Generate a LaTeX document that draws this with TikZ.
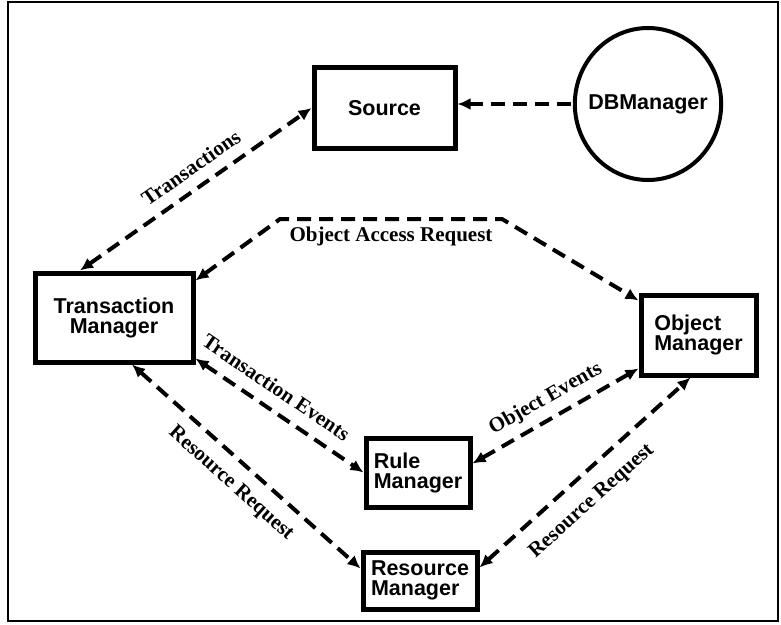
\documentclass[tikz,border=0pt]{standalone}
\usepackage{fontspec}
\setmainfont{Liberation Serif}
\setsansfont{Liberation Sans}
\usetikzlibrary{arrows.meta,shapes.geometric}

\begin{document}
\begin{tikzpicture}[x=1pt,y=-1pt,
    mgr/.style={draw, line width=5pt, inner sep=0pt,
        font=\sffamily\bfseries\fontsize{21.5}{20}\selectfont},
    link/.style={line width=4pt, dash pattern=on 14pt off 8pt,
        >={Latex[length=13pt,width=12pt]}, <->},
    lbl/.style={font=\bfseries\fontsize{21}{20}\selectfont, inner sep=2pt}]

    % Frame round the picture
    \useasboundingbox (0,0) rectangle (781,624);
    \draw[line width=1.2pt] (8,2) rectangle (778,621);

    % The managers
    \node[mgr, minimum width=141pt, minimum height=81pt] (src) at (384.5,108) {Source};
    \node[mgr, ellipse, line width=4pt, inner xsep=-8pt,
        minimum width=142pt, minimum height=152pt] (db) at (648,104) {DBManager};
    \node[mgr, align=center, minimum width=158pt, minimum height=89pt] (tm) at (114,317.5) {Transaction\\Manager};
    \node[mgr, align=left, minimum width=115pt, minimum height=80pt] (om) at (698.5,335) {Object\\Manager};
    \node[mgr, align=left, minimum width=104pt, minimum height=69pt] (rm) at (418,472.5) {Rule\\Manager};
    \node[mgr, align=left, minimum width=114pt, minimum height=57pt] (resm) at (420,580.5) {Resource\\Manager};

    % Bends of the access request path
    \coordinate (oarL) at (280,219);
    \coordinate (oarR) at (502,219);

    % Links between the managers
    \draw[link] ([xshift=-34pt]tm.north) -- node[lbl, sloped, above=9pt, pos=0.53] {Transactions} (src.west);
    \draw[link, <-] (src.east |- db.west) -- (db.west);
    \draw[link] ([yshift=-10pt]tm.north east) -- (oarL)
        -- node[lbl, below=4pt] {Object Access Request} (oarR)
        -- ([yshift=-8pt]om.north west);
    \draw[link] ([yshift=6pt]tm.south east) -- node[lbl, sloped, above=10pt, pos=0.41] {Transaction Events} (rm.west);
    \draw[link] ([xshift=18pt]tm.south) -- node[lbl, sloped, below=10pt, pos=0.5] {Resource Request} ([yshift=12pt]resm.west);
    \draw[link] ([yshift=9pt]rm.east) -- node[lbl, sloped, above=6pt, pos=0.5] {Object Events} ([yshift=9pt]om.south west);
    \draw[link] ([yshift=13pt]resm.east) -- node[lbl, sloped, below=13pt, pos=0.45] {Resource Request} ([xshift=-8pt]om.south);
\end{tikzpicture}
\end{document}
